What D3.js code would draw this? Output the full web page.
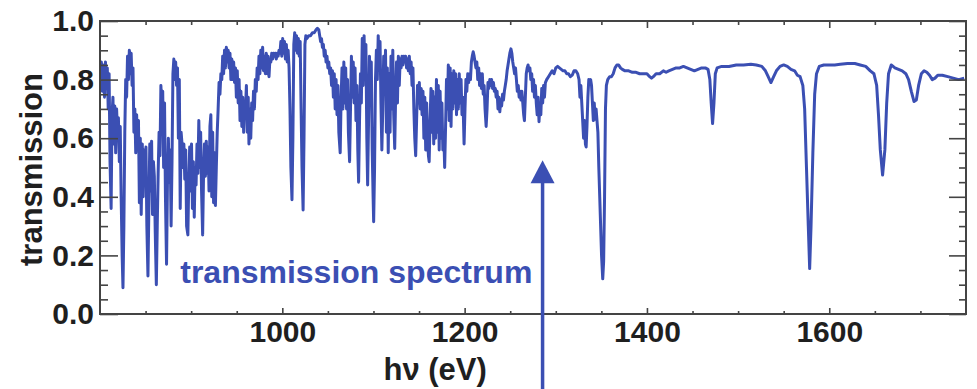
<!DOCTYPE html>
<html>
<head>
<meta charset="utf-8">
<script src="https://cdn.jsdelivr.net/npm/d3@7"></script>
<style>
  body { margin: 0; background: #fff; }
  svg { display: block; font-family: "Liberation Sans", Arial, sans-serif; }
</style>
</head>
<body>
<svg id="chart" width="977" height="389"></svg>
<script>
// axes
const xDomain = [800, 1750]
const yDomain = [0, 1]
const xMajorTicks = [1000, 1200, 1400, 1600]
const xMinorTicks = [850, 900, 950, 1050, 1100, 1150, 1250, 1300, 1350, 1450, 1500, 1550, 1650, 1700]
const yMajorTicks = [0, 0.2, 0.4, 0.6, 0.8, 1.0]
const yMinorTicks = [0.05, 0.1, 0.15, 0.25, 0.3, 0.35, 0.45, 0.5, 0.55, 0.65, 0.7, 0.75, 0.85, 0.9, 0.95]

// spectrum as [hv (eV), transmission]
const spectrum800 = [
  [800.5, 0.80], [801.5, 0.86], [802.5, 0.76], [803.5, 0.85], [805, 0.74], [806, 0.86], [807, 0.78], [808, 0.84],
  [809, 0.70], [810, 0.82], [811, 0.52], [812.2, 0.36], [813.2, 0.68], [814.2, 0.74], [815.2, 0.58], [816.2, 0.71],
  [817.2, 0.55], [818.2, 0.70], [819.2, 0.62], [820.2, 0.67], [821.2, 0.52], [822.2, 0.64], [823.2, 0.40], [824.3, 0.20],
  [825.2, 0.09], [826.2, 0.30], [827.2, 0.62], [828.2, 0.80], [829.2, 0.74], [830.2, 0.88], [831.2, 0.80], [832.2, 0.90],
  [833.2, 0.82], [834.2, 0.89], [835.2, 0.78], [836.2, 0.84], [837.2, 0.62], [838.2, 0.70], [839.2, 0.55], [840.2, 0.68],
  [841.2, 0.56], [842.2, 0.66], [843.2, 0.38], [844.2, 0.60], [845.2, 0.34], [846.4, 0.58], [847.4, 0.40], [848.4, 0.56],
  [849.4, 0.44], [850.4, 0.57], [851.4, 0.30], [852.6, 0.13], [853.6, 0.36], [854.6, 0.58], [855.6, 0.42], [856.6, 0.59],
  [857.6, 0.34], [858.6, 0.52], [859.6, 0.47], [860.6, 0.28], [861.8, 0.10], [862.8, 0.30], [863.8, 0.48], [864.8, 0.62],
  [865.8, 0.54], [866.8, 0.78], [867.8, 0.70], [868.8, 0.76], [869.8, 0.50], [870.8, 0.72], [871.8, 0.40], [873, 0.17],
  [874, 0.45], [875, 0.60], [876, 0.45], [877, 0.56], [878, 0.30], [879, 0.52], [880, 0.82], [881, 0.87],
  [882, 0.80], [883, 0.86], [884, 0.78], [885, 0.84], [886, 0.60], [887, 0.80], [888, 0.36], [889, 0.62],
  [890, 0.58], [891, 0.50], [892, 0.58], [893, 0.46], [894, 0.56], [895, 0.30], [896.4, 0.27], [897.4, 0.46],
  [898.4, 0.57], [899.4, 0.42], [900.4, 0.58], [901.4, 0.36], [902.4, 0.52], [903.4, 0.33], [904.4, 0.50], [905.4, 0.44],
  [906.4, 0.58], [907.4, 0.48], [908.4, 0.66], [909.4, 0.50], [910.4, 0.62], [911.4, 0.42], [912.6, 0.27], [913.6, 0.48],
  [914.6, 0.58], [915.6, 0.47], [916.6, 0.59], [917.6, 0.48], [918.6, 0.57], [919.6, 0.42], [920.6, 0.64], [921.6, 0.68],
  [922.6, 0.40], [923.6, 0.62], [924.6, 0.38], [925.6, 0.55], [926.6, 0.37], [927.6, 0.50], [928.6, 0.62], [929.6, 0.70],
  [930.6, 0.79], [931.6, 0.75], [932.6, 0.82], [933.6, 0.80], [934.6, 0.88], [935.6, 0.82], [936.6, 0.90], [937.6, 0.84],
  [938.6, 0.91], [939.6, 0.86], [940.6, 0.90], [941.6, 0.84], [942.6, 0.89], [943.6, 0.80], [944.6, 0.87], [945.6, 0.80],
  [946.6, 0.86], [947.6, 0.79], [948.6, 0.84], [949.6, 0.74], [950.6, 0.83], [951.6, 0.72], [952.6, 0.80], [953.6, 0.66],
  [954.6, 0.76], [955.6, 0.64], [956.6, 0.74], [957.6, 0.62], [958.6, 0.72]
]
const spectrum960 = [
  [959.6, 0.70], [960.6, 0.78], [961.6, 0.62], [962.6, 0.74], [963.4, 0.58], [964.4, 0.70], [965.4, 0.60], [966.4, 0.72],
  [967.4, 0.66], [968.4, 0.76], [969.4, 0.70], [970.4, 0.80], [971.4, 0.76], [972.4, 0.84], [973.4, 0.80], [974.4, 0.88],
  [975.4, 0.82], [976.4, 0.90], [977.4, 0.84], [978.4, 0.91], [979.4, 0.83], [980.4, 0.88], [981.4, 0.82], [982.4, 0.89],
  [983.4, 0.82], [984.4, 0.88], [985.4, 0.81], [986.4, 0.87], [987.4, 0.86], [988.4, 0.89], [989.4, 0.87], [990.4, 0.89],
  [991.4, 0.88], [992.4, 0.89], [993.4, 0.87], [994.4, 0.89], [995.4, 0.88], [996.4, 0.90], [997.4, 0.89], [998.4, 0.93],
  [999.4, 0.88], [1000.4, 0.94], [1001.4, 0.89], [1002.4, 0.93], [1003.4, 0.87], [1004.4, 0.92], [1005.4, 0.86], [1006.4, 0.90],
  [1007.4, 0.84], [1008.4, 0.70], [1009.4, 0.50], [1010.6, 0.39], [1011.6, 0.60], [1012.6, 0.92], [1013.6, 0.96], [1014.6, 0.90],
  [1015.6, 0.95], [1016.6, 0.89], [1017.6, 0.94], [1018.6, 0.88], [1019.6, 0.93], [1020.6, 0.70], [1021.6, 0.50], [1022.8, 0.355],
  [1023.8, 0.60], [1024.8, 0.92], [1025.8, 0.95], [1027, 0.94], [1029, 0.95], [1031, 0.95], [1033, 0.96], [1035, 0.96],
  [1037, 0.97], [1038.5, 0.975], [1040, 0.97], [1041, 0.95], [1042, 0.93], [1043, 0.94], [1044, 0.91], [1045, 0.92],
  [1046, 0.88], [1047, 0.90], [1048, 0.86], [1049, 0.88], [1050, 0.84], [1051, 0.86], [1052, 0.82], [1053, 0.84],
  [1054, 0.78], [1055, 0.83], [1056, 0.74], [1057, 0.82], [1058, 0.70], [1059, 0.80], [1060, 0.68], [1061, 0.78],
  [1062, 0.62], [1063.5, 0.55], [1064.5, 0.74], [1065.5, 0.84], [1066.5, 0.70], [1067.5, 0.86], [1068.5, 0.72], [1069.5, 0.84],
  [1070.5, 0.70], [1071.5, 0.80], [1072.5, 0.62], [1073.8, 0.52], [1074.8, 0.70], [1075.8, 0.88], [1076.8, 0.74], [1077.8, 0.86],
  [1078.8, 0.72], [1079.8, 0.84], [1080.8, 0.66], [1081.8, 0.78], [1082.8, 0.56], [1083.7, 0.45], [1084.7, 0.66], [1085.7, 0.82],
  [1086.7, 0.72], [1087.7, 0.94], [1088.7, 0.78], [1089.7, 0.95], [1090.7, 0.80], [1091.7, 0.92], [1092.7, 0.60], [1093.6, 0.44],
  [1094.6, 0.66], [1095.6, 0.88], [1096.6, 0.76], [1097.6, 0.86], [1098.6, 0.56], [1099.6, 0.40], [1100.2, 0.315], [1101.2, 0.50],
  [1102.2, 0.80], [1103.2, 0.90], [1104.2, 0.80], [1105.2, 0.95], [1106.2, 0.84], [1107.2, 0.93], [1108.2, 0.72], [1109.2, 0.56],
  [1110.2, 0.70], [1111.2, 0.88], [1112.2, 0.76], [1113.2, 0.90], [1114.2, 0.62], [1115.2, 0.84], [1116.2, 0.55], [1117.2, 0.82],
  [1118.2, 0.62], [1119.2, 0.88]
]
const spectrum1120 = [
  [1120.2, 0.70], [1121.2, 0.90], [1122.2, 0.68], [1123.3, 0.565], [1124.3, 0.74], [1125.3, 0.86], [1126.3, 0.72], [1127.3, 0.88],
  [1128.3, 0.78], [1129.3, 0.87], [1130.3, 0.84], [1131.3, 0.88], [1132.3, 0.85], [1133.3, 0.88], [1134.3, 0.86], [1135.3, 0.88],
  [1136.3, 0.84], [1137.3, 0.87], [1138.3, 0.83], [1139.3, 0.88], [1140.3, 0.82], [1141.3, 0.86], [1142.3, 0.78], [1143.3, 0.84],
  [1144.3, 0.70], [1145.3, 0.60], [1146.3, 0.54], [1147.3, 0.66], [1148.3, 0.78], [1149.3, 0.72], [1150.3, 0.79], [1151.3, 0.70],
  [1152.3, 0.77], [1153.3, 0.68], [1154.3, 0.76], [1155.3, 0.60], [1156.3, 0.74], [1157.3, 0.56], [1158.3, 0.72], [1159.3, 0.60],
  [1160.3, 0.54], [1161.1, 0.52], [1162.1, 0.66], [1163.1, 0.77], [1164.1, 0.62], [1165.1, 0.76], [1166.1, 0.58], [1167.1, 0.74],
  [1168.1, 0.60], [1169.1, 0.80], [1170.1, 0.62], [1171.1, 0.78], [1172.1, 0.56], [1173.1, 0.76], [1174.1, 0.60], [1175.1, 0.72],
  [1176.1, 0.56], [1177.1, 0.62], [1178.1, 0.50], [1179.1, 0.64], [1180.1, 0.80], [1181.1, 0.70], [1182.1, 0.85], [1183.1, 0.66],
  [1184.1, 0.84], [1185.1, 0.64], [1186.1, 0.82], [1187.1, 0.70], [1188.1, 0.83], [1189.1, 0.72], [1190.1, 0.82], [1191.1, 0.68],
  [1192.1, 0.80], [1193.1, 0.70], [1194.1, 0.82], [1195.1, 0.72], [1196.1, 0.80], [1197.1, 0.68], [1198.1, 0.74], [1199.4, 0.58],
  [1200.4, 0.70], [1201.4, 0.80], [1202.4, 0.76], [1203.4, 0.82], [1204.4, 0.79], [1205.4, 0.82], [1206.4, 0.80], [1207.4, 0.86],
  [1208.4, 0.88], [1209.4, 0.895], [1210.4, 0.88], [1211.4, 0.86], [1212.4, 0.84], [1213.4, 0.86], [1214.4, 0.80], [1215.4, 0.84],
  [1216.4, 0.78], [1217.4, 0.82], [1218.4, 0.77], [1219.4, 0.82], [1220.4, 0.75], [1221.4, 0.78], [1222.4, 0.70], [1223.6, 0.64],
  [1224.6, 0.70], [1225.6, 0.79], [1226.6, 0.77], [1227.6, 0.80], [1228.6, 0.78], [1229.6, 0.80], [1230.6, 0.77], [1231.6, 0.79],
  [1232.6, 0.76], [1233.6, 0.77], [1234.6, 0.74], [1235.6, 0.76], [1236.6, 0.70], [1237.6, 0.74], [1238.6, 0.69], [1239.6, 0.73],
  [1240.6, 0.71], [1241.6, 0.75], [1242.6, 0.73], [1243.6, 0.76], [1244.6, 0.78], [1245.6, 0.80], [1246.6, 0.83], [1247.6, 0.85],
  [1248.6, 0.87], [1249.6, 0.89], [1250.8, 0.905], [1251.8, 0.89], [1252.8, 0.86], [1253.8, 0.84], [1254.8, 0.82], [1255.8, 0.84],
  [1256.8, 0.80], [1257.8, 0.76], [1258.8, 0.78], [1259.8, 0.74], [1260.8, 0.76], [1261.8, 0.73], [1262.8, 0.76], [1263.8, 0.72],
  [1264.8, 0.68], [1265.6, 0.66], [1266.6, 0.74], [1267.6, 0.82], [1268.6, 0.84], [1269.6, 0.85], [1270.6, 0.83], [1271.6, 0.84],
  [1272.6, 0.80], [1273.6, 0.82], [1274.6, 0.76], [1275.6, 0.80], [1276.6, 0.74], [1277.6, 0.78], [1278.6, 0.72]
]
const spectrum1280 = [
  [1279.6, 0.68], [1280.6, 0.74], [1281.6, 0.656], [1282.6, 0.72], [1283.6, 0.68], [1284.6, 0.77], [1285.6, 0.72], [1286.6, 0.78],
  [1287.6, 0.74], [1288.6, 0.79], [1290, 0.80], [1292, 0.81], [1294, 0.82], [1296, 0.83], [1298, 0.82], [1300, 0.84],
  [1302, 0.845], [1304, 0.84], [1306, 0.835], [1308, 0.83], [1310, 0.83], [1312, 0.82], [1314, 0.82], [1316, 0.81],
  [1318, 0.815], [1320, 0.83], [1322, 0.83], [1324, 0.82], [1325.5, 0.80], [1326.5, 0.74], [1327.5, 0.78], [1328.5, 0.72],
  [1329.5, 0.66], [1330.5, 0.60], [1331.5, 0.66], [1332.5, 0.58], [1333.3, 0.57], [1334.2, 0.64], [1335.2, 0.74], [1336.2, 0.80],
  [1337.2, 0.79], [1338.2, 0.80], [1339.2, 0.78], [1340.2, 0.72], [1341.2, 0.66], [1342.2, 0.72], [1343.2, 0.665], [1344.2, 0.70],
  [1345.2, 0.66], [1346.2, 0.62], [1347.2, 0.50], [1348.2, 0.40], [1349.2, 0.30], [1350.2, 0.20], [1351.5, 0.12], [1352.5, 0.18],
  [1353.5, 0.40], [1354.5, 0.70], [1355.5, 0.78], [1357, 0.80], [1359, 0.81], [1361, 0.81], [1363, 0.82], [1365, 0.84],
  [1367, 0.85], [1369, 0.85], [1371, 0.84], [1373, 0.835], [1376, 0.83], [1380, 0.83], [1384, 0.825], [1388, 0.825],
  [1392, 0.82], [1396, 0.82], [1400, 0.82], [1403, 0.81], [1405, 0.805], [1407, 0.81], [1410, 0.82], [1414, 0.82],
  [1418, 0.83], [1421, 0.825], [1424, 0.83], [1428, 0.835], [1432, 0.84], [1436, 0.84], [1440, 0.845]
]
const spectrum1440 = [
  [1444, 0.84], [1448, 0.835], [1452, 0.83], [1456, 0.835], [1460, 0.84], [1464, 0.84], [1467, 0.835], [1469, 0.80],
  [1470.5, 0.72], [1472, 0.65], [1473.5, 0.72], [1475, 0.82], [1477, 0.84], [1482, 0.845], [1490, 0.845], [1498, 0.85],
  [1506, 0.85], [1514, 0.852], [1520, 0.85], [1526, 0.845], [1530, 0.83], [1533, 0.81], [1536, 0.79], [1539, 0.81],
  [1542, 0.83], [1546, 0.845], [1550, 0.85], [1554, 0.845], [1558, 0.835], [1562, 0.83], [1565, 0.815], [1568, 0.81],
  [1571, 0.78], [1573, 0.70], [1575, 0.50], [1577, 0.30], [1578.5, 0.155], [1580, 0.30], [1582, 0.55], [1584, 0.75],
  [1586, 0.82], [1589, 0.845], [1594, 0.85], [1600, 0.85]
]
const spectrum1600 = [
  [1606, 0.85], [1612, 0.852], [1620, 0.855], [1628, 0.855], [1634, 0.85], [1640, 0.845], [1645, 0.83], [1649, 0.82],
  [1652, 0.78], [1654, 0.68], [1656, 0.56], [1658.5, 0.474], [1661, 0.56], [1663, 0.72], [1665, 0.82], [1668, 0.85],
  [1672, 0.84], [1676, 0.835], [1680, 0.83], [1684, 0.82], [1687, 0.80], [1690, 0.76], [1693, 0.725], [1695.5, 0.73],
  [1698, 0.78], [1701, 0.82], [1704, 0.83], [1707, 0.825], [1710, 0.815], [1713, 0.80], [1716, 0.805], [1719, 0.815],
  [1724, 0.815], [1730, 0.81], [1736, 0.805], [1742, 0.80], [1748, 0.805]
]

// annotation
const labelText = 'transmission spectrum'
const labelAt = [888, 0.105]
const arrowAt = [1285.5, 0.525]

const blue = '#3b4fb3'
const ink = '#1f1f1f'

const svg = d3.select('#chart')
const margin = { top: 21, right: 11, bottom: 75, left: 100 }
const width = +svg.attr('width') - margin.left - margin.right
const height = +svg.attr('height') - margin.top - margin.bottom

const x = d3.scaleLinear().domain(xDomain).range([0, width])
const y = d3.scaleLinear().domain(yDomain).range([height, 0])

const g = svg.append('g').attr('transform', `translate(${margin.left},${margin.top})`)

g.append('clipPath').attr('id', 'plot-clip')
  .append('rect').attr('width', width).attr('height', height)

const spectrum = [].concat(spectrum800, spectrum960, spectrum1120, spectrum1280, spectrum1440, spectrum1600)

g.append('path')
  .datum(spectrum)
  .attr('clip-path', 'url(#plot-clip)')
  .attr('fill', 'none')
  .attr('stroke', blue)
  .attr('stroke-width', 3)
  .attr('stroke-linejoin', 'round')
  .attr('d', d3.line().x(d => x(d[0])).y(d => y(d[1])))

// ticks all point inward, the frame is drawn as one rect
function tickAxis(axis, transform) {
  const a = g.append('g').attr('transform', transform || null).call(axis)
  a.select('.domain').remove()
  a.selectAll('line').attr('stroke', '#444').attr('stroke-width', 1.6)
  a.attr('font-family', null).attr('font-size', 30).attr('font-weight', 'bold')
  a.selectAll('text').attr('fill', ink)
  return a
}

tickAxis(d3.axisLeft(y).tickValues(yMajorTicks).tickFormat(d3.format('.1f')).tickSize(-18).tickPadding(6))
tickAxis(d3.axisLeft(y).tickValues(yMinorTicks).tickFormat('').tickSize(-8))
tickAxis(d3.axisRight(y).tickValues(yMajorTicks).tickFormat('').tickSize(-17), `translate(${width},0)`)
tickAxis(d3.axisRight(y).tickValues(yMinorTicks).tickFormat('').tickSize(-7), `translate(${width},0)`)
tickAxis(d3.axisBottom(x).tickValues(xMajorTicks).tickFormat(d3.format('d')).tickSize(-6).tickPadding(7), `translate(0,${height})`)
tickAxis(d3.axisBottom(x).tickValues(xMinorTicks).tickFormat('').tickSize(-3), `translate(0,${height})`)
tickAxis(d3.axisTop(x).tickValues(xMajorTicks).tickFormat('').tickSize(-7))
tickAxis(d3.axisTop(x).tickValues(xMinorTicks).tickFormat('').tickSize(-4))

g.append('rect')
  .attr('width', width).attr('height', height)
  .attr('fill', 'none').attr('stroke', '#444').attr('stroke-width', 2)

// axis titles
g.append('text')
  .attr('x', width * 0.387).attr('y', height + 66)
  .attr('text-anchor', 'middle')
  .attr('font-size', 31).attr('font-weight', 'bold').attr('fill', ink)
  .text('h\u03bd (eV)')

g.append('text')
  .attr('transform', `translate(-58,${height / 2 + 2}) rotate(-90)`)
  .attr('text-anchor', 'middle')
  .attr('font-size', 31).attr('font-weight', 'bold').attr('fill', ink)
  .text('transmission')

// in-plot label and arrow
g.append('text')
  .attr('x', x(labelAt[0])).attr('y', y(labelAt[1]))
  .attr('font-size', 32).attr('font-weight', 'bold').attr('fill', blue)
  .text(labelText)

const ax = x(arrowAt[0]), ay = y(arrowAt[1])
g.append('line')
  .attr('x1', ax).attr('x2', ax)
  .attr('y1', ay + 20).attr('y2', height + margin.bottom)
  .attr('stroke', blue).attr('stroke-width', 3.5)
g.append('path')
  .attr('d', `M${ax},${ay} L${ax - 12},${ay + 23} L${ax + 12},${ay + 23} Z`)
  .attr('fill', blue)
</script>
</body>
</html>
